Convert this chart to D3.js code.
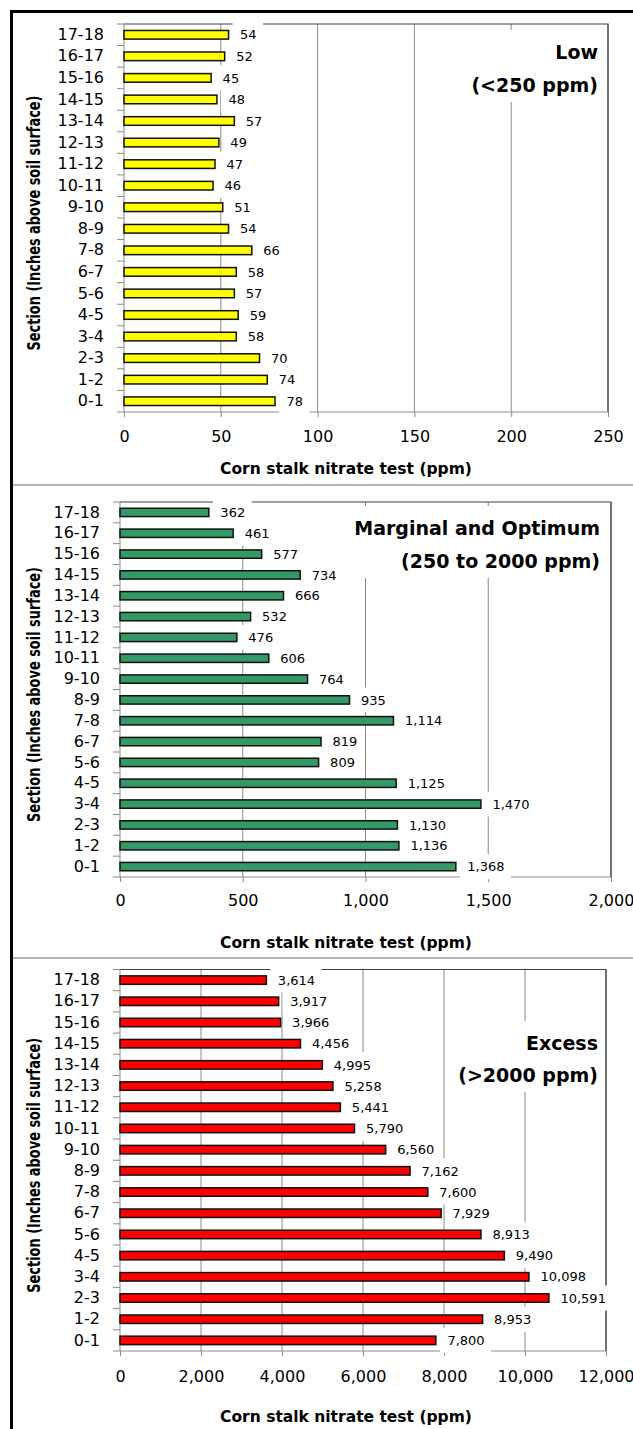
<!DOCTYPE html>
<html>
<head>
<meta charset="utf-8">
<script src="https://cdn.jsdelivr.net/npm/d3@7"></script>
<style>
  body { margin: 0; background: #fff; }
  svg { display: block; }
  text { font-family: "DejaVu Sans", sans-serif; fill: #000; }
</style>
</head>
<body>
<svg id="chart" width="633" height="1429"></svg>
<script>
// Stalk sections, bottom (0-1 in) to top (17-18 in)
const sections = ["0-1","1-2","2-3","3-4","4-5","5-6","6-7","7-8","8-9",
                  "9-10","10-11","11-12","12-13","13-14","14-15","15-16","16-17","17-18"];

// Nitrate concentration per section (ppm)
const lowValues      = [78, 74, 70, 58, 59, 57, 58, 66, 54, 51, 46, 47, 49, 57, 48, 45, 52, 54];
const marginalValues = [1368, 1136, 1130, 1470, 1125, 809, 819, 1114, 935, 764, 606, 476, 532, 666, 734, 577, 461, 362];
const excessValues   = [7800, 8953, 10591, 10098, 9490, 8913, 7929, 7600, 7162, 6560, 5790, 5441, 5258, 4995, 4456, 3966, 3917, 3614];

// Axis ticks
const lowTicks      = [0, 50, 100, 150, 200, 250];
const marginalTicks = [0, 500, 1000, 1500, 2000];
const excessTicks   = [0, 2000, 4000, 6000, 8000, 10000, 12000];

// Panel headings
const lowTitle      = ["Low", "(<250 ppm)"];
const marginalTitle = ["Marginal and Optimum", "(250 to 2000 ppm)"];
const excessTitle   = ["Excess", "(>2000 ppm)"];

const xAxisTitle = "Corn stalk nitrate test (ppm)";
const yAxisTitle = "Section (Inches above soil surface)";

// Panel geometry
const panels = [
  { values: lowValues, ticks: lowTicks, title: lowTitle, color: "#FFFF00",
    x0: 124, x1: 608, y0: 24, y1: 412, titleY: [52, 85], titleRight: 598,
    tickLabelDy: 24, axisTitleY: 468 },
  { values: marginalValues, ticks: marginalTicks, title: marginalTitle, color: "#339966",
    x0: 120, x1: 611, y0: 502, y1: 877, titleY: [528, 561], titleRight: 600,
    tickLabelDy: 23, axisTitleY: 942 },
  { values: excessValues, ticks: excessTicks, title: excessTitle, color: "#FF0000",
    x0: 120, x1: 606, y0: 969.5, y1: 1351, titleY: [1043, 1075], titleRight: 598,
    tickLabelDy: 25, axisTitleY: 1416 }
];

const svg = d3.select("#chart");
const fmt = d3.format(",");
const gridColor = "#8a8a8a";

// Outer frame and panel dividers
svg.append("path")
  .attr("d", "M11.5,1429V11.5H633")
  .attr("fill", "none").attr("stroke", "#000").attr("stroke-width", 3);
[485, 958].forEach(y => {
  svg.append("line").attr("x1", 13).attr("x2", 633).attr("y1", y).attr("y2", y)
    .attr("stroke", "#b4b4b4").attr("stroke-width", 2);
});

panels.forEach(p => {
  const g = svg.append("g");
  const x = d3.scaleLinear()
    .domain([0, p.ticks[p.ticks.length - 1]])
    .range([p.x0, p.x1]);
  const y = d3.scaleBand()
    .domain(sections.slice().reverse())
    .range([p.y0, p.y1])
    .paddingInner(0.6)
    .paddingOuter(0.3);
  const step = y.step();

  // Vertical gridlines
  g.selectAll(".grid").data(p.ticks.slice(1)).join("line")
    .attr("x1", d => x(d)).attr("x2", d => x(d))
    .attr("y1", p.y0).attr("y2", p.y1)
    .attr("stroke", gridColor).attr("stroke-width", 1);

  // Plot-area border (top and right)
  g.append("path")
    .attr("d", `M${p.x0},${p.y0}H${p.x1}V${p.y1}`)
    .attr("fill", "none").attr("stroke", "#404040").attr("stroke-width", 1.2);

  // Bottom value axis
  const xAxis = g.append("g")
    .attr("transform", `translate(0,${p.y1})`)
    .call(d3.axisBottom(x).tickValues(p.ticks).tickFormat(fmt).tickSize(5).tickPadding(0));
  xAxis.select(".domain").attr("stroke", gridColor).attr("d", `M${p.x0},0H${p.x1}`);
  xAxis.selectAll(".tick line").attr("stroke", gridColor);
  xAxis.selectAll(".tick text")
    .attr("y", p.tickLabelDy).attr("dy", "0.35em")
    .style("font-size", "16px").style("font-family", "DejaVu Sans, sans-serif").attr("fill", "#000");

  // Left category axis: labels centred on bands, ticks on band boundaries
  const yAxis = g.append("g")
    .attr("transform", `translate(${p.x0},0)`)
    .call(d3.axisLeft(y).tickSize(0).tickPadding(20));
  yAxis.select(".domain").attr("stroke", gridColor).attr("d", `M0,${p.y0}V${p.y1}`);
  yAxis.selectAll(".tick text")
    .style("font-size", "16px").style("font-family", "DejaVu Sans, sans-serif").attr("fill", "#000");
  g.selectAll(".ytick").data(d3.range(sections.length + 1)).join("line")
    .attr("x1", p.x0 - 7).attr("x2", p.x0)
    .attr("y1", k => p.y0 + k * step).attr("y2", k => p.y0 + k * step)
    .attr("stroke", gridColor);

  // Bars
  const rows = sections.map((s, i) => ({ section: s, value: p.values[i] }));
  g.selectAll(".bar").data(rows).join("rect")
    .attr("x", p.x0)
    .attr("y", d => y(d.section))
    .attr("width", d => x(d.value) - p.x0)
    .attr("height", y.bandwidth())
    .attr("fill", p.color)
    .attr("stroke", "#111").attr("stroke-width", 1.5);

  // Value labels on white boxes
  const lab = g.selectAll(".lab").data(rows).join("g");
  const labText = lab.append("text")
    .attr("x", d => x(d.value) + 11.5)
    .attr("y", d => y(d.section) + y.bandwidth() / 2)
    .attr("dy", "0.36em")
    .style("font-size", "13px")
    .text(d => fmt(d.value));
  labText.each(function(d) {
    const w = this.getComputedTextLength();
    const cy = y(d.section) + y.bandwidth() / 2;
    d3.select(this.parentNode).insert("rect", "text")
      .attr("x", x(d.value) + 4)
      .attr("y", cy - 12.5)
      .attr("width", w + 14)
      .attr("height", 25)
      .attr("fill", "#fff");
  });

  // Panel heading on a white box
  const tg = g.append("g");
  const tt = tg.selectAll("text").data(p.title).join("text")
    .attr("x", p.titleRight)
    .attr("y", (d, i) => p.titleY[i])
    .attr("dy", "0.36em")
    .attr("text-anchor", "end")
    .style("font-size", "19px").style("font-weight", "bold")
    .text(d => d);
  const tw = d3.max(tt.nodes(), n => n.getComputedTextLength());
  tg.insert("rect", "text")
    .attr("x", p.titleRight - tw - 8)
    .attr("y", p.titleY[0] - 22)
    .attr("width", (p.x1 - 1) - (p.titleRight - tw - 8))
    .attr("height", p.titleY[1] - p.titleY[0] + 39)
    .attr("fill", "#fff");

  // Axis titles
  g.append("text")
    .attr("x", 346).attr("y", p.axisTitleY).attr("dy", "0.36em")
    .attr("text-anchor", "middle")
    .style("font-size", "15.5px").style("font-weight", "bold")
    .text(xAxisTitle);
  const cyT = (p.y0 + p.y1) / 2 + 5;
  g.append("text")
    .attr("transform", `translate(34,${cyT}) rotate(-90)`)
    .attr("text-anchor", "middle").attr("dy", "0.36em")
    .attr("textLength", 255).attr("lengthAdjust", "spacingAndGlyphs")
    .style("font-size", "17px").style("font-weight", "bold")
    .text(yAxisTitle);
});
</script>
</body>
</html>
